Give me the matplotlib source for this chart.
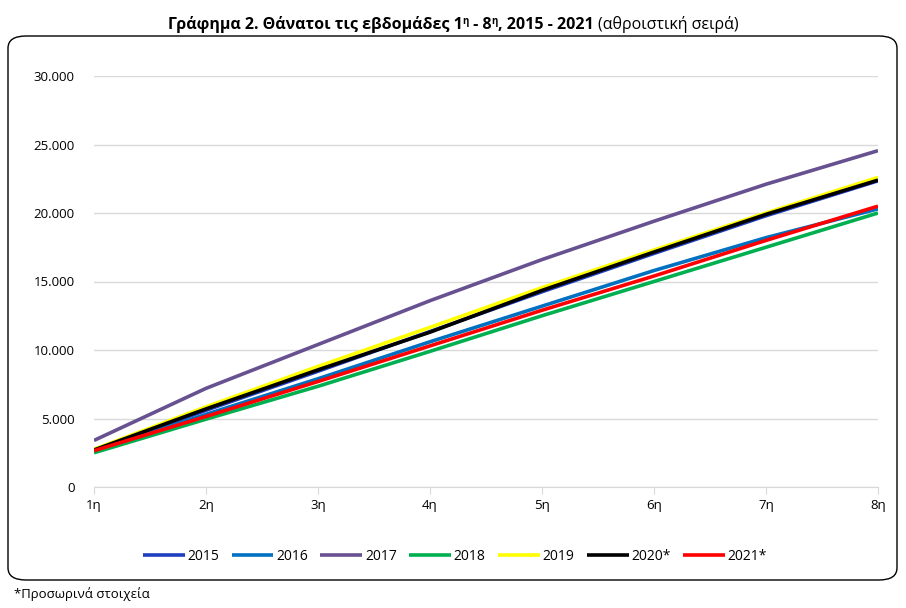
import matplotlib.pyplot as plt
from matplotlib.patches import FancyBboxPatch
from matplotlib.ticker import FuncFormatter

plt.rcParams['font.family'] = ['Open Sans', 'DejaVu Sans']

weeks = ["1η", "2η", "3η", "4η", "5η", "6η", "7η", "8η"]
years = ["2015", "2016", "2017", "2018", "2019", "2020*", "2021*"]

deaths_2015 = [2650, 5600, 8450, 11350, 14250, 17050, 19800, 22350]
deaths_2016 = [2600, 5300, 7900, 10600, 13200, 15800, 18200, 20300]
deaths_2017 = [3400, 7200, 10400, 13600, 16600, 19400, 22100, 24550]
deaths_2018 = [2500, 4950, 7350, 9900, 12500, 15000, 17500, 20000]
deaths_2019 = [2750, 5850, 8800, 11650, 14550, 17300, 20000, 22600]
deaths_2020 = [2700, 5700, 8550, 11300, 14350, 17150, 19900, 22400]
deaths_2021 = [2650, 5150, 7700, 10300, 12900, 15400, 18000, 20500]

series = [deaths_2015, deaths_2016, deaths_2017, deaths_2018,
          deaths_2019, deaths_2020, deaths_2021]
colors = ["#1f3fbf", "#0070c0", "#675190", "#00b050", "#ffff00", "#000000", "#ff0000"]

fig = plt.figure(figsize=(9.06, 6.08), dpi=100)

# rounded chart frame
frame = FancyBboxPatch((8 / 906, 1 - 580 / 608), 889 / 906, 544 / 608,
                       boxstyle="round,pad=0,rounding_size=0.02",
                       transform=fig.transFigure, fill=False,
                       edgecolor="black", linewidth=1.0)
fig.patches.append(frame)

ax = fig.add_axes([94 / 906, 1 - 487 / 608, 784 / 906, 411 / 608])
x = list(range(len(weeks)))
for vals, c, lab in zip(series, colors, years):
    ax.plot(x, vals, color=c, linewidth=2.6, label=lab, solid_capstyle="butt")

ax.set_xlim(0, len(weeks) - 1)
ax.set_ylim(0, 30000)
ax.set_yticks(range(0, 30001, 5000))
ax.yaxis.set_major_formatter(FuncFormatter(lambda v, p: f"{int(v):,}".replace(",", ".")))
ax.set_xticks(x)
ax.set_xticklabels(weeks)
ax.grid(axis="y", color="#d9d9d9", linewidth=1.0)
ax.set_axisbelow(True)
for s in ["top", "right", "left"]:
    ax.spines[s].set_visible(False)
ax.spines["bottom"].set_color("#d9d9d9")
ax.tick_params(axis="y", length=0, pad=14, labelsize=9.5)
ax.tick_params(axis="x", length=5, color="#d9d9d9", pad=4, labelsize=9.5)

ax.legend(loc="center", bbox_to_anchor=(455 / 906, 1 - 556 / 608),
          bbox_transform=fig.transFigure, ncol=7, frameon=False,
          fontsize=10, handlelength=3.0, handletextpad=0.2, columnspacing=0.9)

# title built from pieces: (text, weight, superscript)
pieces = [
    ("Γράφημα 2. Θάνατοι τις εβδομάδες 1", "bold", False),
    ("η", "bold", True),
    (" - 8", "bold", False),
    ("η", "bold", True),
    (", 2015 - 2021 ", "bold", False),
    ("(αθροιστική σειρά)", "normal", False),
]
base_y = 1 - 29 / 608
sup_y = base_y + 5 / 608
fig.canvas.draw()
r = fig.canvas.get_renderer()
texts = []
cur = 0.0
for txt, w, sup in pieces:
    t = fig.text(cur, sup_y if sup else base_y, txt,
                 fontsize=7 if sup else 11.5, fontweight=w,
                 va="baseline", ha="left")
    bb = t.get_window_extent(r)
    cur = bb.x1 / 906
    texts.append(t)
total = cur
shift = 0.5 - total / 2
for t in texts:
    t.set_x(t.get_position()[0] + shift)

fig.text(14 / 906, 1 - 594 / 608, "*Προσωρινά στοιχεία", fontsize=9.5,
         va="center", ha="left")

fig.savefig("out.png", dpi=100)
